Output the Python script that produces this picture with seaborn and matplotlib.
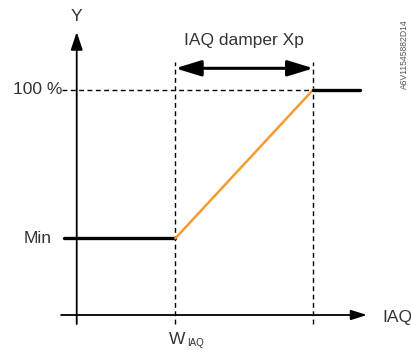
import matplotlib
matplotlib.use("Agg")
import matplotlib.pyplot as plt
import seaborn as sns

# Characteristic of the IAQ damper: output Y (%) over IAQ
min_level = 34.0        # minimum damper position (%)
full_level = 100.0      # fully open (%)
w_iaq = 1.0             # IAQ setpoint W_IAQ
xp = 1.4                # proportional band Xp
x_start = -0.13
x_tail = 2.87

seg_low_x = [x_start, w_iaq]
seg_low_y = [min_level, min_level]
seg_ramp_x = [w_iaq, w_iaq + xp]
seg_ramp_y = [min_level, full_level]
seg_high_x = [w_iaq + xp, x_tail]
seg_high_y = [full_level, full_level]

y_labels = ["100 %", "Min"]
x_label = "IAQ"
y_axis_label = "Y"
band_label = "IAQ damper Xp"
doc_id = "A6V11545882D14"

sns.set_theme(style="white")
plt.rcParams["font.family"] = ["Liberation Sans", "DejaVu Sans"]

TEXT = "#333333"
ORANGE = "#f79a32"

fig = plt.figure(figsize=(4.11, 3.5), dpi=100)
ax = fig.add_axes([0, 0, 1, 1])
ax.set_xlim(-0.778, 3.390)
ax.set_ylim(-15.52, 139.69)
ax.axis("off")

# Axes with arrowheads
ax.annotate("", xy=(0, 125.5), xytext=(0, -4.0),
            arrowprops=dict(arrowstyle="-|>,head_length=0.9,head_width=0.3",
                            color="black", lw=1.3, shrinkA=0, shrinkB=0))
ax.annotate("", xy=(2.944, 0), xytext=(-0.159, 0),
            arrowprops=dict(arrowstyle="-|>,head_length=0.8,head_width=0.25",
                            color="black", lw=1.3, shrinkA=0, shrinkB=0))

# Guide lines
dash = (0, (3.5, 2.5))
for xv in (w_iaq, w_iaq + xp):
    ax.plot([xv, xv], [-4.0, 112.2], color="black", lw=1.0, linestyle=dash)
ax.plot([-0.149, w_iaq + xp], [full_level, full_level], color="black",
        lw=1.0, linestyle=dash)

# Proportional band arrow
ax.annotate("", xy=(w_iaq + xp, 109.4), xytext=(w_iaq, 109.4),
            arrowprops=dict(arrowstyle="<|-|>,head_length=1.3,head_width=0.4",
                            color="black", lw=2.2, shrinkA=0, shrinkB=0))

# Characteristic curve
sns.lineplot(x=seg_low_x, y=seg_low_y, ax=ax, color="black", lw=2.4,
             sort=False, estimator=None)
sns.lineplot(x=seg_ramp_x, y=seg_ramp_y, ax=ax, color=ORANGE, lw=1.8,
             sort=False, estimator=None)
sns.lineplot(x=seg_high_x, y=seg_high_y, ax=ax, color="black", lw=2.4,
             sort=False, estimator=None)

fs = 12.5
ax.text(-0.15, full_level, y_labels[0], ha="right", va="center",
        fontsize=fs, color=TEXT)
ax.text(-0.25, min_level, y_labels[1], ha="right", va="center",
        fontsize=fs, color=TEXT)
ax.text(0.0, 132.2, y_axis_label, ha="center", va="center",
        fontsize=fs, color=TEXT)
ax.text(w_iaq + xp / 2, 121.8, band_label, ha="center", va="center",
        fontsize=fs, color=TEXT)
ax.text(3.10, -1.3, x_label, ha="left", va="center", fontsize=fs, color=TEXT)
ax.text(w_iaq - 0.07, -11.0, "W", ha="left", va="center", fontsize=fs,
        color=TEXT)
ax.text(w_iaq + 0.115, -12.6, "IAQ", ha="left", va="center", fontsize=7,
        color=TEXT)
ax.text(3.32, 115.5, doc_id, ha="center", va="center", rotation=90,
        fontsize=6.2, color="#555555")

fig.savefig("out.png", dpi=100)
